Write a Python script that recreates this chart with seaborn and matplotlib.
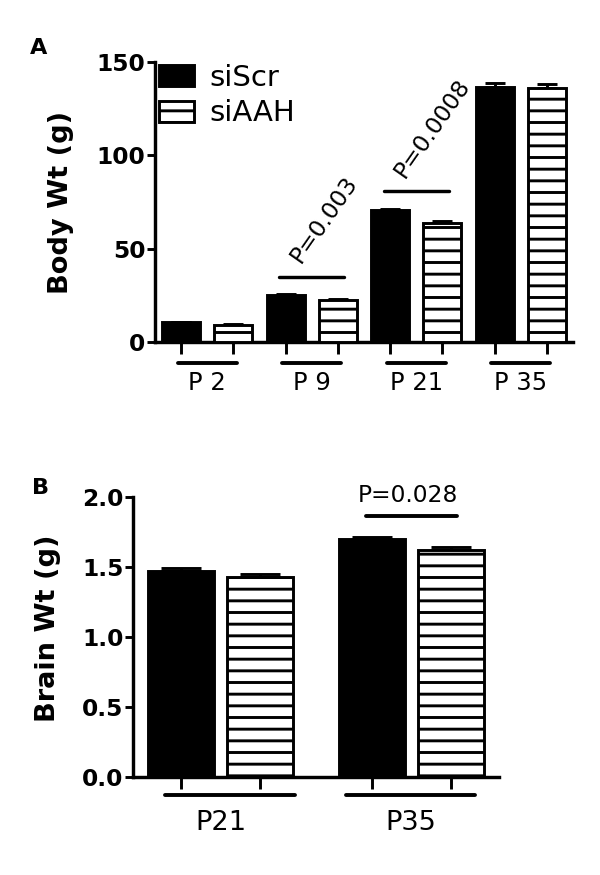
import numpy as np
import pandas as pd
import matplotlib
matplotlib.use('Agg')
import matplotlib.pyplot as plt
import matplotlib.patches as mpatches
import matplotlib.transforms as mtransforms
import seaborn as sns

# values (mean, SEM)
groups = ['siScr', 'siAAH']

body_ages = ['P 2', 'P 9', 'P 21', 'P 35']
body_scr = [10.5, 25.0, 70.5, 136.5]
body_aah = [9.0, 22.5, 64.0, 136.0]
body_scr_sem = [0.4, 0.5, 0.8, 2.5]
body_aah_sem = [0.4, 0.5, 0.8, 2.0]
body_pvals = ['', 'P=0.003', 'P=0.0008', '']
body_sig_y = [None, 35, 81, None]

brain_ages = ['P21', 'P35']
brain_scr = [1.47, 1.70]
brain_aah = [1.43, 1.62]
brain_scr_sem = [0.02, 0.015]
brain_aah_sem = [0.018, 0.02]
brain_pvals = ['', 'P=0.028']
brain_sig_y = [None, 1.865]

sns.set_style('ticks')
plt.rcParams['font.family'] = ['DejaVu Sans']
plt.rcParams['hatch.linewidth'] = 3.0
plt.rcParams['hatch.color'] = 'black'
for k in ['text.color', 'axes.labelcolor', 'xtick.color', 'ytick.color', 'axes.edgecolor']:
    plt.rcParams[k] = 'black'

DPI = 70
fig = plt.figure(figsize=(600 / DPI, 875 / DPI), dpi=DPI)
ax_a = fig.add_axes([155 / 600, 1 - 342 / 875, 418 / 600, 280 / 875])
ax_b = fig.add_axes([133 / 600, 1 - 777 / 875, 366 / 600, 280 / 875])


def make_df(ages, scr, aah):
    rows = []
    for a, s, h in zip(ages, scr, aah):
        rows.append({'age': a, 'group': 'siScr', 'wt': s})
        rows.append({'age': a, 'group': 'siAAH', 'wt': h})
    return pd.DataFrame(rows)


def draw_panel(ax, ages, scr, aah, scr_sem, aah_sem, width, gap, capsize, xlim,
               ylim, yticks, fmt, ylabel, label_xy, label_pad, xfont, line_y, line_ext):
    df = make_df(ages, scr, aah)
    sns.barplot(data=df, x='age', y='wt', hue='group', hue_order=groups,
                palette={'siScr': 'black', 'siAAH': 'white'},
                width=width, gap=gap, errorbar=None, edgecolor='black',
                linewidth=3, legend=False, ax=ax, zorder=3)
    for bar in ax.containers[1]:
        bar.set_hatch('-')

    # upper-only SEM bars
    bar_centers = []
    for cont, sems in zip(ax.containers, [scr_sem, aah_sem]):
        xs = [p.get_x() + p.get_width() / 2 for p in cont]
        ys = [p.get_height() for p in cont]
        bar_centers += xs
        ax.errorbar(xs, ys, yerr=[np.zeros(len(sems)), sems], fmt='none',
                    ecolor='black', elinewidth=3, capsize=capsize,
                    capthick=3, zorder=2)

    ax.set_xlim(*xlim)
    ax.set_ylim(*ylim)
    ax.set_yticks(yticks)
    ax.set_yticklabels([fmt.format(v) for v in yticks], fontsize=24, fontweight='bold')
    ax.set_xlabel('')
    ax.set_ylabel(ylabel, fontsize=28, fontweight='bold', va='center')
    ax.yaxis.set_label_coords(*label_xy)

    ax.set_xticks(range(len(ages)))
    ax.set_xticklabels(ages, fontsize=xfont)
    ax.tick_params(axis='x', which='major', length=0, pad=label_pad)
    ax.set_xticks(bar_centers, minor=True)
    ax.tick_params(axis='x', which='minor', length=12, width=3, direction='out')
    ax.tick_params(axis='y', length=8, width=3, direction='out', pad=2)

    for s in ['left', 'bottom']:
        ax.spines[s].set_linewidth(3.5)
    sns.despine(ax=ax)

    # group underlines beneath the axis
    trans = mtransforms.blended_transform_factory(ax.transData, ax.transAxes)
    for i, (lo, hi) in enumerate(line_ext):
        ax.plot([i + lo, i + hi], [line_y, line_y], color='black',
                lw=4, transform=trans, clip_on=False, solid_capstyle='round')


draw_panel(ax_a, body_ages, body_scr, body_aah, body_scr_sem, body_aah_sem,
           width=1.0, gap=0.27, capsize=10, xlim=(-0.5, 3.5), ylim=(0, 150),
           yticks=[0, 50, 100, 150], fmt='{:d}', ylabel='Body Wt (g)',
           label_xy=(-0.225, 0.5), label_pad=30, xfont=25, line_y=-0.075,
           line_ext=[(-0.28, 0.28)] * 4)

draw_panel(ax_b, brain_ages, brain_scr, brain_aah, brain_scr_sem, brain_aah_sem,
           width=0.833, gap=0.17, capsize=21, xlim=(-0.46, 1.46), ylim=(0, 2.0),
           yticks=[0, 0.5, 1.0, 1.5, 2.0], fmt='{:.1f}', ylabel='Brain Wt (g)',
           label_xy=(-0.232, 0.53), label_pad=34, xfont=28, line_y=-0.064,
           line_ext=[(-0.29, 0.39), (-0.345, 0.335)])

# significance bars, panel A (rotated p values)
for i, (p, y) in enumerate(zip(body_pvals, body_sig_y)):
    if y is None:
        continue
    ax_a.plot([i - 0.31, i + 0.31], [y, y], color='black', lw=3.5)
    ax_a.text(i - 0.07, y + 5, p, rotation=55, rotation_mode='anchor',
              ha='left', va='bottom', fontsize=24)

# significance bar, panel B
for i, (p, y) in enumerate(zip(brain_pvals, brain_sig_y)):
    if y is None:
        continue
    ax_b.plot([i - 0.24, i + 0.24], [y, y], color='black', lw=4, solid_capstyle='round')
    ax_b.text(i - 0.02, y + 0.065, p, ha='center', va='bottom', fontsize=24)

# legend
handles = [mpatches.Patch(facecolor='black', edgecolor='black', lw=3, label='siScr'),
           mpatches.Patch(facecolor='white', edgecolor='black', lw=3, hatch='-', label='siAAH')]
ax_a.legend(handles=handles, loc='upper left', bbox_to_anchor=(0.0, 1.01),
            frameon=False, fontsize=30, handlelength=1.2, handleheight=0.75,
            handletextpad=0.5, labelspacing=0.27, borderaxespad=0.0, borderpad=0.15)

fig.text(30 / 600, 1 - 38 / 875, 'A', fontsize=23, fontweight='bold', ha='left', va='top')
fig.text(32 / 600, 1 - 478 / 875, 'B', fontsize=23, fontweight='bold', ha='left', va='top')

fig.savefig('out.png', dpi=DPI, facecolor='white')
